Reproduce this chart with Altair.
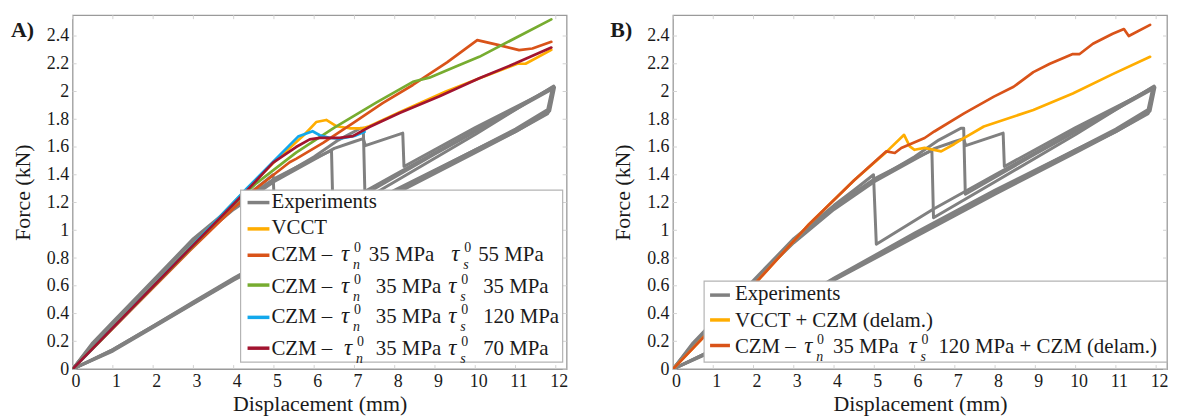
import altair as alt
import pandas as pd

FONT = "Liberation Serif"
TEXT = "#1a1a1a"
W, H = 497, 356
X_DOMAIN = [0, 12.27]
Y_DOMAIN = [0, 2.55]
X_TICKS = [0, 1, 2, 3, 4, 5, 6, 7, 8, 9, 10, 11, 12]
Y_TICKS = [0, 0.2, 0.4, 0.6, 0.8, 1, 1.2, 1.4, 1.6, 1.8, 2, 2.2, 2.4]

# ---------------- experiments (4 specimens, shown in both panels) ----------------
S1_X = [0, 0.5, 1, 2, 3, 4, 4.5, 4.98, 5.05, 6.45, 8, 10, 11.92, 11.8, 11, 10, 8, 6, 4, 3, 2, 1, 0]
S1_Y = [0, 0.19, 0.34, 0.64, 0.94, 1.18, 1.29, 1.40, 0.90, 1.15, 1.40, 1.72, 2.03, 1.87, 1.73, 1.58, 1.28, 0.97, 0.65, 0.48, 0.31, 0.14, 0]
S2_X = [0, 0.5, 1, 2, 3, 4, 5, 5.8, 6.43, 6.47, 8, 10, 11.95, 11.82, 11, 10, 8, 6, 4, 3, 2, 1, 0]
S2_Y = [0, 0.18, 0.33, 0.63, 0.93, 1.17, 1.37, 1.49, 1.575, 1.09, 1.35, 1.69, 2.04, 1.85, 1.71, 1.56, 1.26, 0.95, 0.64, 0.47, 0.30, 0.13, 0]
S3_X = [0, 0.5, 1, 2, 3, 4, 5, 6, 6.6, 7.15, 7.22, 7.26, 9, 11.93, 11.8, 11, 10, 8, 6, 4, 3, 2, 1, 0]
S3_Y = [0, 0.17, 0.32, 0.62, 0.92, 1.16, 1.36, 1.53, 1.65, 1.735, 1.735, 1.26, 1.55, 2.02, 1.84, 1.71, 1.57, 1.27, 0.96, 0.645, 0.475, 0.305, 0.135, 0]
S4_X = [0, 0.5, 1, 2, 3, 4, 5, 6, 6.5, 7.0, 7.22, 7.27, 8.2, 8.23, 10, 11.97, 11.85, 11, 10, 8, 6, 4, 3, 2, 1, 0]
S4_Y = [0, 0.18, 0.33, 0.63, 0.91, 1.15, 1.35, 1.51, 1.59, 1.64, 1.66, 1.61, 1.70, 1.46, 1.74, 2.03, 1.86, 1.72, 1.58, 1.29, 0.98, 0.655, 0.485, 0.31, 0.14, 0]

# ---------------- panel A models ----------------
VCCT_A_X = [0, 2.9, 4.3, 5.0, 5.76, 6.05, 6.3, 6.55, 6.88, 7.2, 7.37, 8.12, 9.27, 10.14, 11.05, 11.25, 11.89]
VCCT_A_Y = [0, 0.87, 1.29, 1.49, 1.69, 1.78, 1.795, 1.75, 1.735, 1.735, 1.75, 1.85, 2.0, 2.10, 2.2, 2.2, 2.30]
CZM55_A_X = [0, 2.9, 4.0, 4.57, 5.39, 5.55, 6.22, 7.0, 7.7, 8.45, 9.3, 10.05, 10.59, 11.09, 11.42, 11.89]
CZM55_A_Y = [0, 0.85, 1.16, 1.305, 1.49, 1.515, 1.63, 1.78, 1.916, 2.047, 2.21, 2.37, 2.334, 2.298, 2.31, 2.358]
CZM35_A_X = [0, 2.9, 4.0, 4.57, 5.55, 6.5, 7.54, 8.45, 8.86, 9.52, 10.1, 11.89]
CZM35_A_Y = [0, 0.86, 1.19, 1.34, 1.56, 1.74, 1.92, 2.07, 2.10, 2.18, 2.25, 2.52]
CZM120_A_X = [0, 2.92, 4.32, 5.0, 5.6, 5.96, 6.14, 6.4, 6.63, 7.0, 7.25]
CZM120_A_Y = [0, 0.875, 1.30, 1.50, 1.675, 1.714, 1.685, 1.665, 1.66, 1.68, 1.71]
CZM70_A_X = [0, 2.92, 4.32, 4.98, 5.55, 5.89, 6.14, 6.63, 6.96, 7.37, 8.12, 9.1, 10.1, 11.0, 11.89]
CZM70_A_Y = [0, 0.87, 1.284, 1.487, 1.60, 1.655, 1.666, 1.666, 1.678, 1.744, 1.845, 1.964, 2.095, 2.203, 2.317]

# ---------------- panel B models ----------------
VCCT_B_X = [0, 2.07, 3.38, 4.5, 5.3, 5.74, 5.88, 6.0, 6.25, 6.66, 6.98, 7.15, 7.72, 8.95, 9.93, 10.92, 11.85]
VCCT_B_Y = [0, 0.626, 1.044, 1.36, 1.565, 1.688, 1.605, 1.58, 1.594, 1.569, 1.62, 1.652, 1.748, 1.867, 1.986, 2.125, 2.25]
CZM_B_X = [0, 2.07, 3.38, 4.5, 5.3, 5.51, 5.67, 6.25, 6.49, 7.23, 7.97, 8.46, 8.95, 9.36, 9.93, 10.1, 10.43, 10.92, 11.2, 11.32, 11.85]
CZM_B_Y = [0, 0.626, 1.044, 1.36, 1.569, 1.557, 1.593, 1.665, 1.712, 1.843, 1.963, 2.034, 2.14, 2.20, 2.27, 2.27, 2.344, 2.416, 2.45, 2.40, 2.48]

# ---------------- colours and labels ----------------
C_EXP = "#808080"
C_VCCT = "#FFAD00"
C_CZM55 = "#D95319"
C_CZM35 = "#77AC30"
C_CZM120 = "#12A8EC"
C_CZM70 = "#A2142F"

LBL_EXP = "Experiments"
LBL_VCCT = "VCCT"
LBL_CZM = "CZM \u2013"
LBL_TAU = "\u03c4"
LBL_A_VALUES_N = ["35 MPa", "35 MPa", "35 MPa", "35 MPa"]
LBL_A_VALUES_S = ["55 MPa", "35 MPa", "120 MPa", "70 MPa"]
LBL_B_VCCT = "VCCT + CZM (delam.)"
LBL_B_N = "35 MPa"
LBL_B_S = "120 MPa + CZM (delam.)"

ONE = pd.DataFrame({"k": [0]})


def xenc():
    return alt.X(
        "x:Q",
        scale=alt.Scale(domain=X_DOMAIN, nice=False, zero=False),
        axis=alt.Axis(values=X_TICKS, format="~g", title="Displacement (mm)", ticks=False,
                      domain=False, grid=False, labelFont=FONT, labelFontSize=18,
                      labelColor=TEXT, labelPadding=4, labelOffset=3, labelFlush=False,
                      titleFont=FONT, titleFontSize=22, titleFontWeight="normal",
                      titleColor=TEXT, titlePadding=3),
    )


def yenc():
    return alt.Y(
        "y:Q",
        scale=alt.Scale(domain=Y_DOMAIN, nice=False, zero=False),
        axis=alt.Axis(values=Y_TICKS, format="~g", title="Force (kN)", ticks=False,
                      domain=False, grid=False, labelFont=FONT, labelFontSize=18,
                      labelColor=TEXT, labelPadding=4, labelFlush=False, labelOverlap=False,
                      titleFont=FONT, titleFontSize=22, titleFontWeight="normal",
                      titleColor=TEXT, titlePadding=12),
    )


def line(xs, ys, color, width=2.7):
    df = pd.DataFrame({"x": xs, "y": ys, "i": list(range(len(xs)))})
    return alt.Chart(df).mark_line(color=color, strokeWidth=width, clip=True,
                                   strokeJoin="round", strokeCap="round").encode(
        x=xenc(), y=yenc(), order="i:Q")


def tick_layers():
    tc = "#d2d2d2"
    dx = pd.DataFrame({"x": X_TICKS})
    dy = pd.DataFrame({"y": Y_TICKS})
    return [
        alt.Chart(dx).mark_rule(color=tc, strokeWidth=1).encode(x=xenc(), y=alt.value(H), y2=alt.value(H - 4)),
        alt.Chart(dx).mark_rule(color=tc, strokeWidth=1).encode(x=xenc(), y=alt.value(0), y2=alt.value(4)),
        alt.Chart(dy).mark_rule(color=tc, strokeWidth=1).encode(y=yenc(), x=alt.value(0), x2=alt.value(4)),
        alt.Chart(dy).mark_rule(color=tc, strokeWidth=1).encode(y=yenc(), x=alt.value(W), x2=alt.value(W - 4)),
    ]


def txt(t, x, y, size=21, style="normal", weight="normal"):
    return alt.Chart(ONE).mark_text(text=t, font=FONT, fontSize=size, fontStyle=style,
                                    fontWeight=weight, color=TEXT, align="left",
                                    baseline="alphabetic").encode(x=alt.value(x), y=alt.value(y))


def box(x0, x1, y0, y1):
    return alt.Chart(ONE).mark_rect(fill="white", stroke="#b4b4b4", strokeWidth=1.2).encode(
        x=alt.value(x0), x2=alt.value(x1), y=alt.value(y0), y2=alt.value(y1))


def sym(x0, x1, y, color):
    return alt.Chart(ONE).mark_rule(color=color, strokeWidth=3.5).encode(
        x=alt.value(x0), x2=alt.value(x1), y=alt.value(y))


def tau_group(xt, base, sub):
    return [
        txt(LBL_TAU, xt, base, size=23, style="italic"),
        txt("0", xt + 13, base - 9, size=14),
        txt(sub, xt + 12, base + 8, size=14, style="italic"),
    ]


exp_layers = [line(S1_X, S1_Y, C_EXP, 3), line(S2_X, S2_Y, C_EXP, 3),
              line(S3_X, S3_Y, C_EXP, 3), line(S4_X, S4_Y, C_EXP, 3)]

# ---------------- panel A ----------------
legA = [box(169, 493, 176, 349)]
sym_y = [188.5, 215, 241.5, 271.5, 304, 335]
base_y = [194, 220, 247.5, 279.5, 310, 341.5]
colsA = [C_EXP, C_VCCT, C_CZM55, C_CZM35, C_CZM120, C_CZM70]
for sy, c in zip(sym_y, colsA):
    legA.append(sym(176, 198, sy, c))
legA.append(txt(LBL_EXP, 200, base_y[0]))
legA.append(txt(LBL_VCCT, 200, base_y[1]))
tau1_x = [270, 270, 270, 273]
n_x = [298, 305, 305, 305]
tau2_x = [381, 378, 378, 378]
s_x = [408, 413, 413, 413]
for k in range(4):
    b = base_y[k + 2]
    legA.append(txt(LBL_CZM, 200, b))
    legA += tau_group(tau1_x[k], b, "n")
    legA.append(txt(LBL_A_VALUES_N[k], n_x[k], b))
    legA += tau_group(tau2_x[k], b, "s")
    legA.append(txt(LBL_A_VALUES_S[k], s_x[k], b))
legA.append(txt("A)", -62, 22, size=22, weight="bold"))

panelA = alt.layer(
    *tick_layers(),
    *exp_layers,
    line(VCCT_A_X, VCCT_A_Y, C_VCCT),
    line(CZM55_A_X, CZM55_A_Y, C_CZM55),
    line(CZM35_A_X, CZM35_A_Y, C_CZM35),
    line(CZM120_A_X, CZM120_A_Y, C_CZM120),
    line(CZM70_A_X, CZM70_A_Y, C_CZM70),
    *legA,
).properties(width=W, height=H)

# ---------------- panel B ----------------
legB = [box(31.3, 497, 267.6, 349)]
symB_y = [281.6, 306.6, 332.3]
baseB_y = [286.6, 313.3, 340]
for sy, c in zip(symB_y, [C_EXP, C_VCCT, C_CZM55]):
    legB.append(sym(37.3, 57.3, sy, c))
legB.append(txt(LBL_EXP, 62.3, baseB_y[0]))
legB.append(txt(LBL_B_VCCT, 62.3, baseB_y[1]))
legB.append(txt(LBL_CZM, 62.3, baseB_y[2]))
legB += tau_group(132, baseB_y[2], "n")
legB.append(txt(LBL_B_N, 161, baseB_y[2]))
legB += tau_group(237, baseB_y[2], "s")
legB.append(txt(LBL_B_S, 267, baseB_y[2]))
legB.append(txt("B)", -63, 22, size=22, weight="bold"))

panelB = alt.layer(
    *tick_layers(),
    *exp_layers,
    line(VCCT_B_X, VCCT_B_Y, C_VCCT),
    line(CZM_B_X, CZM_B_Y, C_CZM55),
    *legB,
).properties(width=W, height=H)

chart = alt.hconcat(panelA, panelB, spacing=107, bounds="flush").configure_view(
    stroke="#9a9a9a", strokeWidth=1.3
).properties(padding={"left": 2, "top": 4, "right": 0, "bottom": 0}, background="white")

chart.save("out.html", embed_options={"renderer": "svg", "actions": False})
